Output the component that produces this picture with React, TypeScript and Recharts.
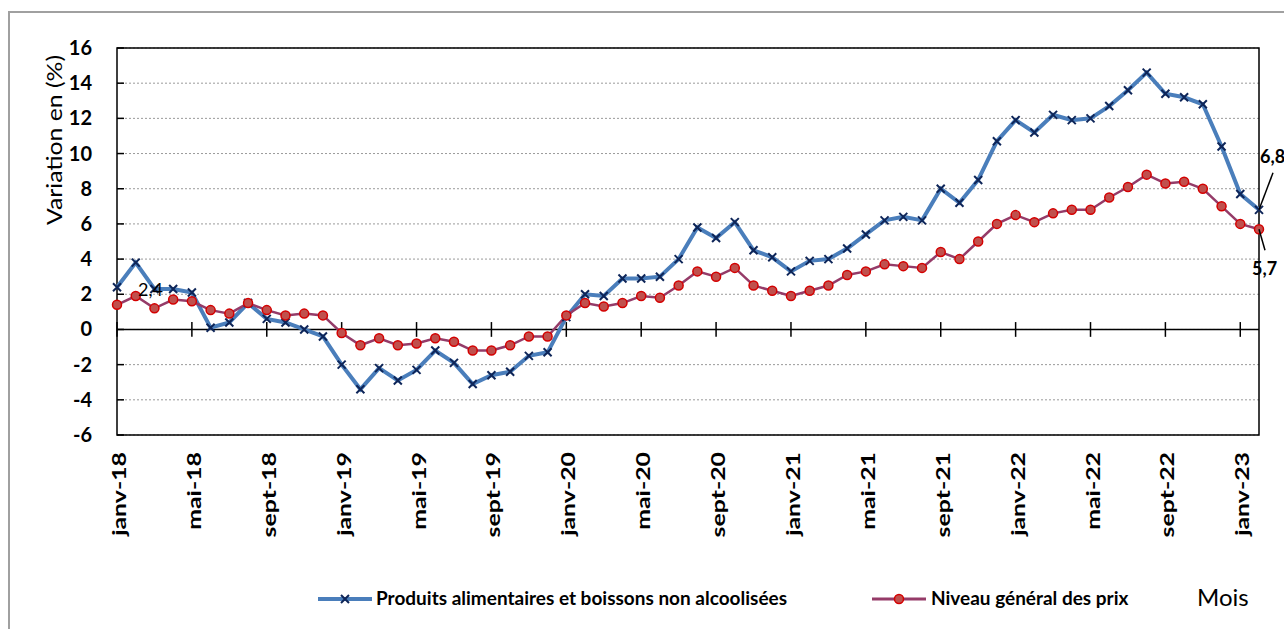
import {
  LineChart,
  Line,
  XAxis,
  YAxis,
  CartesianGrid,
  ReferenceLine,
  ReferenceArea,
  LabelList,
} from "recharts";

// === Données ===
const MONTH_NAMES = ["janv", "févr", "mars", "avr", "mai", "juin", "juil", "août", "sept", "oct", "nov", "déc"];
const YEARS = ["18", "19", "20", "21", "22", "23"];
const N_POINTS = 62; // janv-18 -> févr-23

const months = YEARS.flatMap((y) => MONTH_NAMES.map((m) => `${m}-${y}`)).slice(0, N_POINTS);

// Produits alimentaires et boissons non alcoolisées (%)
const food = [
  2.4, 3.8, 2.3, 2.3, 2.1, 0.1, 0.4, 1.5, 0.6, 0.4, 0.0, -0.4,
  -2.0, -3.4, -2.2, -2.9, -2.3, -1.2, -1.9, -3.1, -2.6, -2.4, -1.5, -1.3,
  0.7, 2.0, 1.9, 2.9, 2.9, 3.0, 4.0, 5.8, 5.2, 6.1, 4.5, 4.1,
  3.3, 3.9, 4.0, 4.6, 5.4, 6.2, 6.4, 6.2, 8.0, 7.2, 8.5, 10.7,
  11.9, 11.2, 12.2, 11.9, 12.0, 12.7, 13.6, 14.6, 13.4, 13.2, 12.8, 10.4,
  7.7, 6.8,
];

// Niveau général des prix (%)
const cpi = [
  1.4, 1.9, 1.2, 1.7, 1.6, 1.1, 0.9, 1.5, 1.1, 0.8, 0.9, 0.8,
  -0.2, -0.9, -0.5, -0.9, -0.8, -0.5, -0.7, -1.2, -1.2, -0.9, -0.4, -0.4,
  0.8, 1.5, 1.3, 1.5, 1.9, 1.8, 2.5, 3.3, 3.0, 3.5, 2.5, 2.2,
  1.9, 2.2, 2.5, 3.1, 3.3, 3.7, 3.6, 3.5, 4.4, 4.0, 5.0, 6.0,
  6.5, 6.1, 6.6, 6.8, 6.8, 7.5, 8.1, 8.8, 8.3, 8.4, 8.0, 7.0,
  6.0, 5.7,
];

const yTicks = [-6, -4, -2, 0, 2, 4, 6, 8, 10, 12, 14, 16];
const tickMonths = months.filter((_, i) => i % 4 === 0);

const rows = months.map((m, i) => ({ month: m, food: food[i], cpi: cpi[i] }));

const FONT = "Lato, 'Open Sans', sans-serif";
const BLUE = "#4A7EBB";
const NAVY = "#0E2558";
const PLUM = "#953B68";
const RED_FILL = "#C0504D";
const RED_EDGE = "#D40000";

const fmt = (v: number) => v.toFixed(1).replace(".", ",");

// === Ticks ===
const XTick = ({ x, y, payload }: any) => (
  <text
    transform={`translate(${x + 9},${y + 17}) rotate(-90) scale(1.38,1)`}
    textAnchor="end"
    fontFamily={FONT}
    fontWeight={700}
    fontSize={18}
    fill="#000"
  >
    {payload.value}
  </text>
);

const YTick = ({ x, y, payload }: any) => (
  <g>
    <line x1={x} x2={x + 7} y1={y} y2={y} stroke="#000" strokeWidth={1.5} />
    <text
      x={x - 25}
      y={y}
      dy={7}
      textAnchor="end"
      fontFamily={FONT}
      fontWeight={700}
      fontSize={20}
      fill="#000"
    >
      {payload.value}
    </text>
  </g>
);

const YTitle = (props: any) => {
  const vb = props.viewBox || { x: 0, y: 48 };
  return (
    <text
      transform={`translate(${vb.x + 62},${vb.y + 92}) rotate(-90) scale(1.18,1)`}
      textAnchor="middle"
      fontFamily={FONT}
      fontSize={21}
      fill="#000"
    >
      Variation en (%)
    </text>
  );
};

// === Marqueurs ===
const XMark = ({ cx, cy, index }: any) => (
  <path
    key={`x-${index}`}
    d={`M${cx - 4},${cy - 4}L${cx + 4},${cy + 4}M${cx - 4},${cy + 4}L${cx + 4},${cy - 4}`}
    stroke={NAVY}
    strokeWidth={2}
    fill="none"
  />
);

// === Étiquettes de données ===
const FoodLabel = ({ x, y, value, index }: any) => {
  if (index === 0)
    return (
      <text x={x + 21} y={y + 9} fontFamily={FONT} fontSize={18} fill="#000">
        {fmt(value)}
      </text>
    );
  if (index === N_POINTS - 1)
    return (
      <g>
        <line x1={x} y1={y} x2={x + 14} y2={y - 37} stroke="#000" strokeWidth={1.5} />
        <text x={x + 1} y={y - 47} fontFamily={FONT} fontWeight={700} fontSize={18} fill="#000">
          {fmt(value)}
        </text>
      </g>
    );
  return null;
};

const CpiLabel = ({ x, y, value, index }: any) => {
  if (index !== N_POINTS - 1) return null;
  return (
    <g>
      <line x1={x} y1={y} x2={x + 6} y2={y + 21} stroke="#000" strokeWidth={1.5} />
      <text x={x - 7} y={y + 46} fontFamily={FONT} fontWeight={700} fontSize={18} fill="#000">
        {fmt(value)}
      </text>
    </g>
  );
};

// === Légende ===
const legendText = {
  position: "absolute" as const,
  top: 1,
  fontSize: 18,
  fontWeight: 700,
  whiteSpace: "nowrap" as const,
  transform: "scaleX(1.055)",
  transformOrigin: "left center",
};

const ChartLegend = () => (
  <div style={{ position: "absolute", left: 0, top: 586, width: 1284, height: 28, fontFamily: FONT }}>
    <svg style={{ position: "absolute", left: 318, top: 6 }} width={54} height={14}>
      <line x1={0} x2={54} y1={7} y2={7} stroke={BLUE} strokeWidth={4} />
      <path d="M23,3L31,11M23,11L31,3" stroke={NAVY} strokeWidth={2} />
    </svg>
    <span style={{ ...legendText, left: 376 }}>Produits alimentaires et boissons non alcoolisées</span>
    <svg style={{ position: "absolute", left: 872, top: 6 }} width={54} height={14}>
      <line x1={0} x2={54} y1={7} y2={7} stroke={PLUM} strokeWidth={3} />
      <circle cx={27} cy={7} r={4.5} fill={RED_FILL} stroke={RED_EDGE} strokeWidth={1.5} />
    </svg>
    <span style={{ ...legendText, left: 931 }}>Niveau général des prix</span>
    <span style={{ position: "absolute", left: 1197, top: -4, fontSize: 24, whiteSpace: "nowrap" }}>Mois</span>
  </div>
);

export default function App() {
  return (
    <div
      style={{
        position: "absolute",
        left: 0,
        top: 0,
        width: 1284,
        height: 629,
        overflow: "hidden",
        background: "#fff",
      }}
    >
      <div
        style={{
          position: "absolute",
          left: 8,
          top: 11,
          width: 1300,
          height: 660,
          border: "2px solid #a0a0a0",
          boxSizing: "border-box",
        }}
      />
      <div style={{ position: "absolute", left: 0, top: 0 }}>
        <LineChart width={1284} height={629} data={rows} margin={{ top: 48, right: 25, left: 0, bottom: 94 }}>
          <CartesianGrid vertical={false} stroke="#9a9a9a" strokeDasharray="2 2" />
          <XAxis
            dataKey="month"
            height={100}
            interval={3}
            axisLine={false}
            tickLine={false}
            tickSize={0}
            tickMargin={0}
            tick={<XTick />}
          />
          <YAxis
            width={117}
            domain={[-6, 16]}
            ticks={yTicks}
            axisLine={false}
            tickLine={false}
            tickSize={0}
            tickMargin={0}
            tick={<YTick />}
            label={<YTitle />}
          />
          <ReferenceLine y={0} stroke="#000" strokeWidth={1.5} />
          {tickMonths.map((m) => (
            <ReferenceLine
              key={m}
              segment={[
                { x: m, y: -0.42 },
                { x: m, y: 0.42 },
              ]}
              stroke="#000"
              strokeWidth={1.5}
            />
          ))}
          <ReferenceArea
            x1={months[0]}
            x2={months[N_POINTS - 1]}
            y1={-6}
            y2={16}
            fill="none"
            stroke="#000"
            strokeWidth={1.5}
          />
          <Line
            dataKey="food"
            stroke={BLUE}
            strokeWidth={4}
            dot={<XMark />}
            isAnimationActive={false}
          >
            <LabelList dataKey="food" content={<FoodLabel />} />
          </Line>
          <Line
            dataKey="cpi"
            stroke={PLUM}
            strokeWidth={2.5}
            dot={{ r: 4.5, fill: RED_FILL, stroke: RED_EDGE, strokeWidth: 1.5 }}
            isAnimationActive={false}
          >
            <LabelList dataKey="cpi" content={<CpiLabel />} />
          </Line>
        </LineChart>
      </div>
      <ChartLegend />
    </div>
  );
}
